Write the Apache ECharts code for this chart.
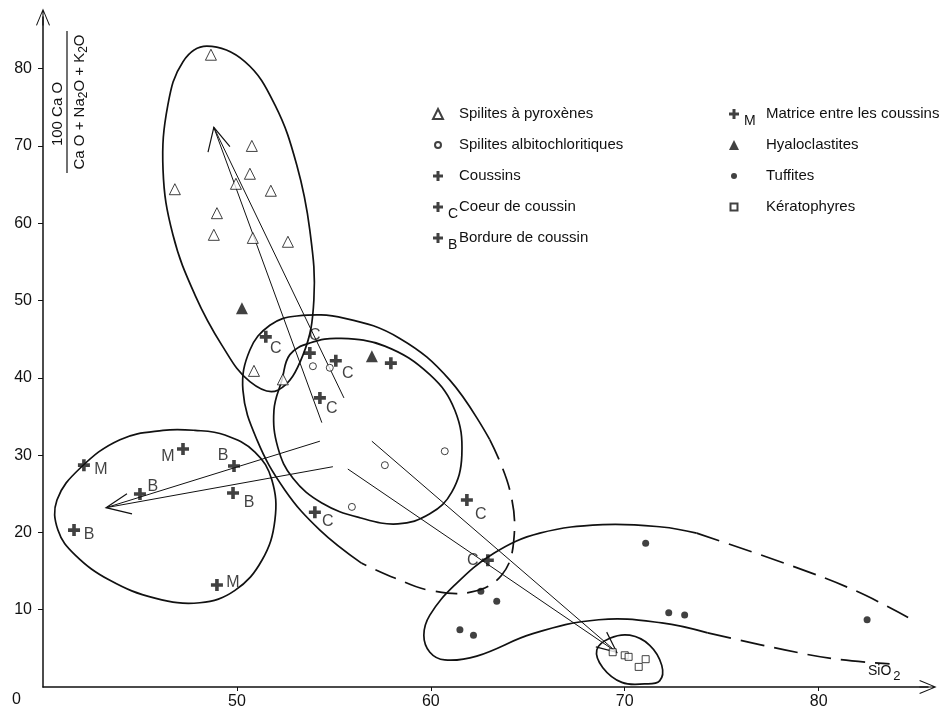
<!DOCTYPE html>
<html>
<head>
<meta charset="utf-8">
<script src="https://cdn.jsdelivr.net/npm/echarts@6/dist/echarts.min.js"></script>
<style>
html,body{margin:0;padding:0;background:#fff;}
#chart{width:948px;height:712px;}
</style>
</head>
<body>
<div id="chart"></div>
<script>
// axes
var xTicks = [50, 60, 70, 80];
var yTicks = [10, 20, 30, 40, 50, 60, 70, 80];

// points: [SiO2, 100CaO/(CaO+Na2O+K2O)]
var pyroxenes = [[48.66,81.8],[50.77,70.0],[50.67,66.4],[49.95,65.1],[51.75,64.2],[46.80,64.4],[48.97,61.3],[48.81,58.5],[50.82,58.1],[52.63,57.6],[50.88,40.9],[52.37,39.8]];
var albito = [[53.92,41.5],[54.79,41.3],[57.63,28.7],[60.72,30.5],[55.93,23.3]];
var coussins = [[57.94,41.9]];
var coeur = [[51.49,45.3],[53.76,43.2],[55.10,42.2],[54.28,37.4],[54.02,22.6],[61.86,24.2],[62.94,16.4]];
var bordure = [[45.0,24.97],[41.6,20.3],[49.85,28.6],[49.8,25.1]];
var matrice = [[42.11,28.7],[47.22,30.8],[48.97,13.2]];
var hyalo = [[50.26,49.0],[56.96,42.8]];
var tuffites = [[71.08,18.6],[62.58,12.4],[63.40,11.1],[61.5,7.4],[62.2,6.7],[72.27,9.6],[73.09,9.3],[82.5,8.7]];
var kerato = [[69.38,4.5],[70.0,4.1],[70.2,3.9],[71.08,3.6],[70.72,2.6]];

// hand-drawn outlines
var curveA = [[48.45,82.9],[50.41,80.9],[51.96,75.3],[53.09,67.5],[53.76,59.1],[53.97,50.1],[53.40,42.9],[52.11,38.4],[50.67,39.5],[49.23,44.2],[47.84,50.7],[46.70,58.5],[46.19,66.9],[46.44,75.3],[47.22,80.9]];
var curveBSolid = [[56.44,16.0],[54.28,20.3],[52.47,25.5],[51.03,32.0],[50.31,38.4],[50.67,43.6],[51.70,46.8],[53.09,48.0],[55.57,47.7],[58.40,45.1],[60.98,39.7],[63.04,32.0]];
var curveBDash = [[63.04,32.0],[64.07,25.5],[64.28,19.0],[63.66,14.5],[62.11,12.3],[59.95,12.5],[58.14,14.1],[56.44,16.0]];
var curveC = [[52.32,39.7],[52.73,43.0],[53.76,44.5],[55.31,45.1],[57.63,44.1],[59.95,40.4],[61.24,35.8],[61.60,30.0],[61.08,25.2],[59.95,22.4],[58.30,21.1],[56.34,21.9],[54.38,23.8],[52.89,27.0],[52.11,31.0],[51.91,35.8]];
var curveE = [[46.19,33.2],[43.97,32.0],[41.91,28.3],[40.72,24.2],[40.77,20.3],[41.65,17.1],[43.45,13.8],[45.77,11.5],[48.09,10.9],[49.90,12.5],[51.29,16.4],[51.96,21.6],[51.80,26.8],[50.93,30.4],[49.38,32.6],[47.84,33.2]];
var curveF = [[68.56,4.8],[69.23,6.3],[70.26,6.7],[71.29,5.4],[71.91,2.8],[71.80,0.8],[71.03,0.4],[69.85,0.6],[68.87,2.5]];
var curveGSolid = [[73.71,19.9],[71.91,20.7],[68.87,21.0],[65.62,19.9],[63.25,17.3],[61.24,13.2],[59.95,9.3],[59.64,6.7],[59.95,4.5],[60.72,3.5],[62.37,4.0],[65.26,6.9],[68.66,8.7],[71.91,8.3],[74.28,7.0]];
var curveGDashUp = [[73.71,19.9],[78.25,16.0],[81.86,12.5],[84.69,8.9]];
var curveGDashLow = [[74.28,7.0],[78.25,4.8],[80.93,3.6],[83.66,3.0]];

// trend arrows: two shafts meeting at the tip, then the open head
var arrowUp = [[54.38,34.2],[48.81,72.4],[55.52,37.4]];
var arrowUpHead = [[48.51,69.2],[48.81,72.4],[49.64,69.9]];
var arrowLeft = [[54.28,31.8],[43.25,23.2],[54.95,28.5]];
var arrowLeftHead = [[44.33,25.0],[43.25,23.2],[44.59,22.4]];
var arrowDown = [[56.96,31.8],[69.59,4.5],[55.72,28.2]];
var arrowDownHead = [[68.51,5.2],[69.59,4.5],[69.07,7.1]];

// label placement of the letters next to the crosses (px)
var coeurOff = [[10,12],[5,-17],[12,13],[12,11],[13,9],[14,15],[-15,0]];
var bordureOff = [[13,-7],[15,5],[-11,-10],[16,10]];
var matriceOff = [[17,4],[-15,8],[16,-2]];

var ink = '#111';
var font = 'Liberation Sans';
var plusPath = 'path://M3.5,0H6.5V3.5H10V6.5H6.5V10H3.5V6.5H0V3.5H3.5Z';
var arrowPath = 'path://M10,0L20,24L18.6,24.6L10,3.4L1.4,24.6L0,24ZM9.2,2H10.8V24.6H9.2Z';
// legend icons padded so they come out smaller than the 10px legend box
var smallCircle = 'path://M0,0M10,10M2,5A3,3,0,1,1,8,5A3,3,0,1,1,2,5Z';
var smallSquare = 'path://M0,0M10,10M1.5,1.5H8.5V8.5H1.5Z';

var myChart = echarts.init(document.getElementById('chart'));

function pts(name, data, symbol, size, open) {
    return {
        name: name, type: 'scatter', data: data, symbol: symbol, symbolSize: size, z: 5,
        itemStyle: open ? {color: '#fff', borderColor: ink, borderWidth: 1} : {color: ink},
        emphasis: {disabled: true}
    };
}
function crosses(name, data, letter, offsets) {
    var s = pts(name, data.map(function (p, i) {
        return {value: p, label: {offset: offsets[i]}};
    }), plusPath, 12, false);
    s.label = {show: true, position: 'inside', formatter: letter, fontSize: 16, fontFamily: font, color: ink};
    return s;
}

var curves = [
    {p: curveA, closed: true, w: 1.7},
    {p: curveBSolid, w: 1.7},
    {p: curveBDash, w: 1.7, dash: [22, 10]},
    {p: curveC, closed: true, w: 1.7},
    {p: curveE, closed: true, w: 1.7},
    {p: curveF, closed: true, w: 1.7},
    {p: curveGSolid, w: 1.7},
    {p: curveGDashUp, w: 1.7, dash: [24, 10]},
    {p: curveGDashLow, w: 1.7, dash: [24, 10]},
    {p: arrowUp, w: 1, sharp: true},
    {p: arrowUpHead, w: 1.2, sharp: true},
    {p: arrowLeft, w: 1, sharp: true},
    {p: arrowLeftHead, w: 1.2, sharp: true},
    {p: arrowDown, w: 1, sharp: true},
    {p: arrowDownHead, w: 1.2, sharp: true}
];

var subs = {'Coeur de coussin': 'C', 'Bordure de coussin': 'B', 'Matrice entre les coussins': 'M'};
function legendText(name) {
    return '{s|' + (subs[name] || '\u00a0') + '}{t|' + name + '}';
}
function legend(left, items, subWidth) {
    return {
        data: items, orient: 'vertical', left: left, top: 100, padding: 0,
        itemWidth: 10, itemHeight: 10, itemGap: 3, selectedMode: false,
        formatter: legendText,
        textStyle: {
            color: ink, fontFamily: font,
            rich: {
                t: {fontSize: 15, lineHeight: 27, fontFamily: font, color: ink},
                s: {fontSize: 14, lineHeight: 14, width: subWidth, padding: [14, 0, 0, 0], fontFamily: font, color: ink}
            }
        }
    };
}

var option = {
    animation: false,
    grid: {left: 43, right: 20, top: 17, bottom: 25},
    xAxis: {
        type: 'value', min: 40, max: 85.64, interval: 10,
        axisLine: {onZero: false, symbol: ['none', arrowPath], symbolSize: [14, 24], lineStyle: {color: ink, width: 1.5}},
        axisTick: {length: 4, customValues: xTicks, lineStyle: {color: ink}},
        axisLabel: {customValues: xTicks, margin: 7, fontSize: 16, fontFamily: font, color: ink,
            formatter: function (v) { return xTicks.indexOf(v) >= 0 ? v : ''; }},
        splitLine: {show: false}
    },
    yAxis: {
        type: 'value', min: 0, max: 86.68, interval: 10,
        axisLine: {onZero: false, symbol: ['none', arrowPath], symbolSize: [14, 24], lineStyle: {color: ink, width: 1.5}},
        axisTick: {length: 5, customValues: yTicks, lineStyle: {color: ink}},
        axisLabel: {customValues: yTicks, margin: 11, fontSize: 16, fontFamily: font, color: ink,
            formatter: function (v) { return yTicks.indexOf(v) >= 0 ? v : ''; }},
        splitLine: {show: false}
    },
    legend: [
        legend(432, [
            {name: 'Spilites à pyroxènes'},
            {name: 'Spilites albitochloritiques', icon: smallCircle},
            {name: 'Coussins'},
            {name: 'Coeur de coussin'},
            {name: 'Bordure de coussin'}
        ], 11),
        legend(728, [
            {name: 'Matrice entre les coussins'},
            {name: 'Hyaloclastites'},
            {name: 'Tuffites', icon: smallCircle},
            {name: 'Kératophyres', icon: smallSquare}
        ], 22)
    ],
    graphic: [
        {type: 'text', left: 12, top: 692, style: {text: '0', font: '16px ' + font, fill: ink}},
        {type: 'text', left: 868, top: 664, style: {
            text: '{a|SiO}{b|2}', fill: ink,
            rich: {a: {fontSize: 14, fontFamily: font, color: ink}, b: {fontSize: 13, fontFamily: font, color: ink, padding: [10, 0, 0, 2]}}
        }},
        {type: 'group', x: 67, y: 102, rotation: Math.PI / 2, children: [
            {type: 'text', x: -12, y: -2, style: {text: '100 Ca O', font: '15px ' + font, fill: ink, align: 'center', verticalAlign: 'bottom'}},
            {type: 'line', shape: {x1: -71, y1: 0, x2: 71, y2: 0}, style: {stroke: ink, lineWidth: 1.2}},
            {type: 'text', x: 0, y: 3, style: {
                text: '{n|Ca O + Na}{s|2}{n|O + K}{s|2}{n|O}', fill: ink, align: 'center', verticalAlign: 'top',
                rich: {n: {fontSize: 15, fontFamily: font, color: ink}, s: {fontSize: 12, fontFamily: font, color: ink, padding: [8, 0, 0, 0]}}
            }}
        ]}
    ],
    series: [
        {
            type: 'custom', name: 'contours', silent: true, z: 2,
            data: curves.map(function (c, i) { return [i]; }),
            renderItem: function (params, api) {
                var c = curves[params.dataIndex];
                var p = c.p.map(function (d) { return api.coord(d); });
                return {
                    type: c.closed ? 'polygon' : 'polyline',
                    shape: {points: p, smooth: c.sharp ? 0 : 0.4},
                    style: {fill: null, stroke: ink, lineWidth: c.w, lineDash: c.dash || null}
                };
            }
        },
        pts('Spilites à pyroxènes', pyroxenes, 'triangle', 11, true),
        pts('Spilites albitochloritiques', albito, 'circle', 7, true),
        pts('Coussins', coussins, plusPath, 12, false),
        crosses('Coeur de coussin', coeur, 'C', coeurOff),
        crosses('Bordure de coussin', bordure, 'B', bordureOff),
        crosses('Matrice entre les coussins', matrice, 'M', matriceOff),
        pts('Hyaloclastites', hyalo, 'triangle', 12, false),
        pts('Tuffites', tuffites, 'circle', 7, false),
        pts('Kératophyres', kerato, 'rect', 7, true)
    ]
};
myChart.setOption(option);
</script>
</body>
</html>
